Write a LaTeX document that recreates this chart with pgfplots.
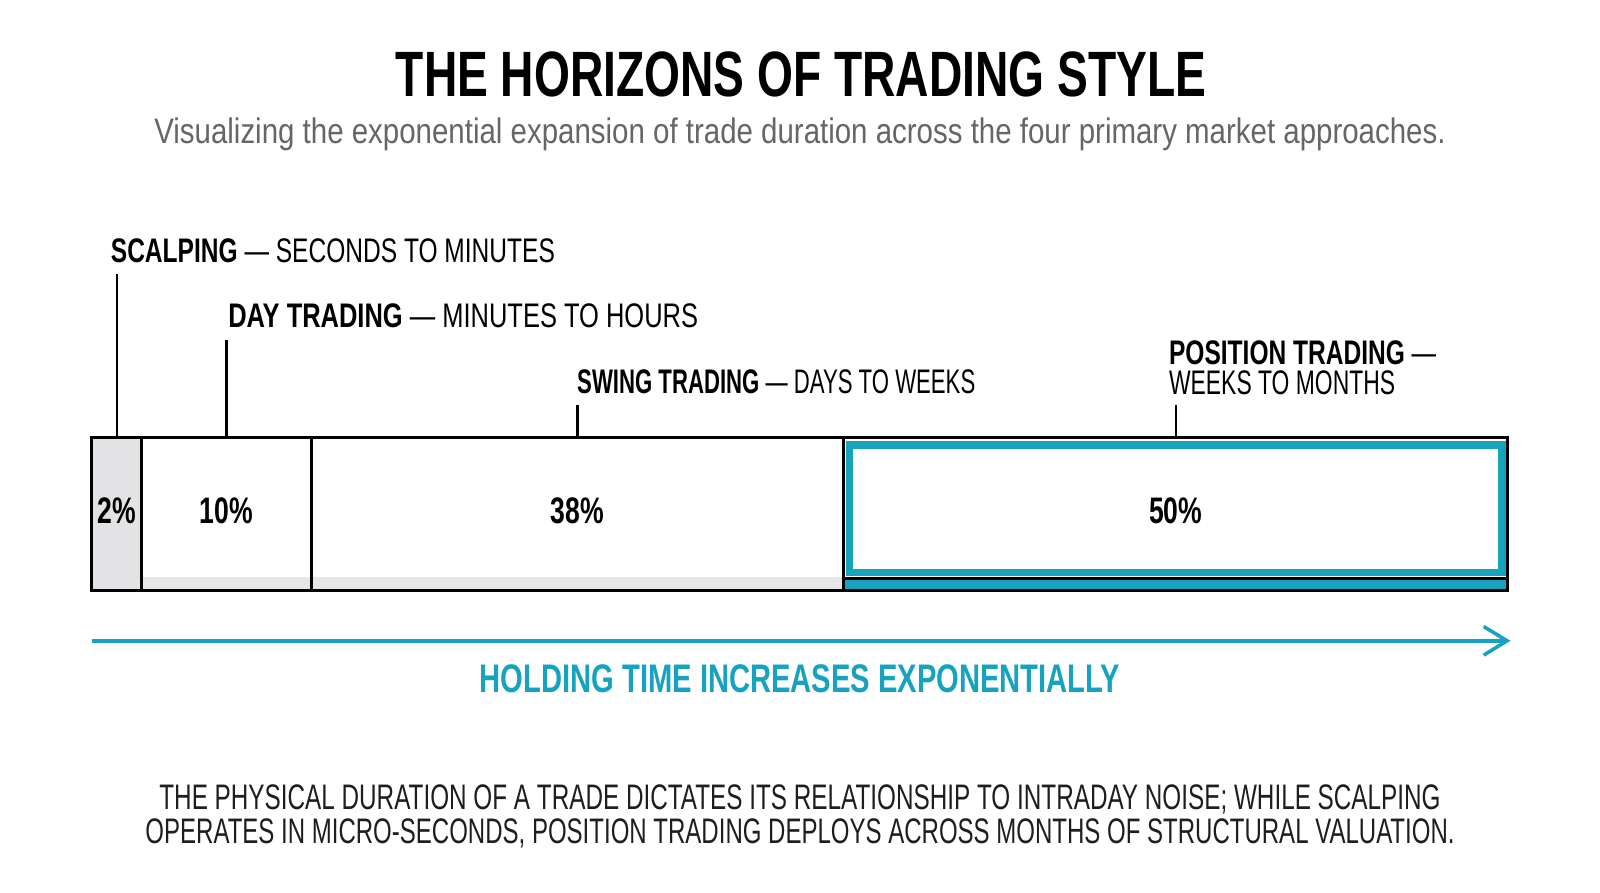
\documentclass[border=0pt]{standalone}
\usepackage{pgfplots}
\pgfplotsset{compat=1.18}
\usepackage{graphicx}
\usepackage{fontspec}
\setmainfont[FakeStretch=0.72]{Liberation Sans}
\definecolor{teal1}{HTML}{17A2BF}
\definecolor{lgray}{HTML}{E3E3E5}
\definecolor{stripgray}{HTML}{E6E6E6}
\definecolor{subgray}{HTML}{666666}
\definecolor{ink}{HTML}{1E1E1E}
\begin{document}
\begin{tikzpicture}[x=0.010204cm,y=-0.010204cm]
\fill[white] (0,0) rectangle (1568,875);
\coordinate (barsw) at (90,579);
% titles
\node[anchor=base, inner sep=0, font=\fontsize{18.25}{20}\selectfont\bfseries] at (785,95) {THE HORIZONS OF TRADING STYLE};
\node[anchor=base, inner sep=0, text=subgray, font=\fontsize{10.1}{12}\selectfont] at (784,141) {\scalebox{1.153}[1]{Visualizing the exponential expansion of trade duration across the four primary market approaches.}};
% segment labels
\node[anchor=base west, inner sep=0, font=\fontsize{9.7}{11}\selectfont] at (108,257) {\textbf{SCALPING} --- SECONDS TO MINUTES};
\node[anchor=base west, inner sep=0, font=\fontsize{9.7}{11}\selectfont] at (223,321) {\scalebox{1.038}[1]{\textbf{DAY TRADING} --- MINUTES TO HOURS}};
\node[anchor=base west, inner sep=0, font=\fontsize{9.7}{11}\selectfont] at (565,386) {\scalebox{0.903}[1]{\textbf{SWING TRADING} --- DAYS TO WEEKS}};
\node[anchor=base west, inner sep=0, font=\fontsize{9.7}{11}\selectfont] at (1145,357) {\textbf{POSITION TRADING} ---};
\node[anchor=base west, inner sep=0, font=\fontsize{9.7}{11}\selectfont] at (1145,387) {\scalebox{0.933}[1]{WEEKS TO MONTHS}};
% arrow
\draw[teal1, line width=1.16pt] (90,628) -- (1476,628);
\draw[teal1, line width=1.0pt, line join=miter] (1454,614) -- (1477,628) -- (1454,642);
\node[anchor=base, inner sep=0, text=teal1, font=\fontsize{11.35}{13}\selectfont\bfseries] at (784,679) {\scalebox{1.016}[1]{HOLDING TIME INCREASES EXPONENTIALLY}};
% bottom text
\node[anchor=base, inner sep=0, text=ink, font=\fontsize{10.1}{12}\selectfont] at (784,793) {\scalebox{0.951}[1]{THE PHYSICAL DURATION OF A TRADE DICTATES ITS RELATIONSHIP TO INTRADAY NOISE; WHILE SCALPING}};
\node[anchor=base, inner sep=0, text=ink, font=\fontsize{10.1}{12}\selectfont] at (784,827) {\scalebox{0.940}[1]{OPERATES IN MICRO-SECONDS, POSITION TRADING DEPLOYS ACROSS MONTHS OF STRUCTURAL VALUATION.}};
% bar
\begin{axis}[at={(barsw)}, anchor=south west, scale only axis,
  width=14.163cm, height=1.5306cm, xmin=0, xmax=100, ymin=0, ymax=1,
  hide axis, clip=false]
% segment fills (drawn widths: 2% scalping, 10% day, 38% swing, 50% position)
\addplot[fill=lgray, draw=none] coordinates {(0,0)(3.53,0)(3.53,1)(0,1)} --cycle;
\addplot[fill=white, draw=none] coordinates {(3.53,0)(15.49,0)(15.49,1)(3.53,1)} --cycle;
\addplot[fill=white, draw=none] coordinates {(15.49,0)(53.10,0)(53.10,1)(15.49,1)} --cycle;
\addplot[fill=white, draw=none] coordinates {(53.10,0)(100,0)(100,1)(53.10,1)} --cycle;
% bottom strips
\addplot[fill=stripgray, draw=none] coordinates {(3.53,0)(53.10,0)(53.10,0.093)(3.53,0.093)} --cycle;
\addplot[fill=teal1, draw=none] coordinates {(53.10,0)(100,0)(100,0.08)(53.10,0.08)} --cycle;
\addplot[black, line width=0.87pt] coordinates {(53.10,0.08)(100,0.08)};
% teal inner frame
\addplot[draw=teal1, line width=2.1pt] coordinates {(53.50,0.12)(99.60,0.12)(99.60,0.953)(53.50,0.953)} --cycle;
% borders
\addplot[draw=black, line width=0.87pt] coordinates {(0,0)(3.53,0)(3.53,1)(0,1)} --cycle;
\addplot[draw=black, line width=0.87pt] coordinates {(3.53,0)(15.49,0)(15.49,1)(3.53,1)} --cycle;
\addplot[draw=black, line width=0.87pt] coordinates {(15.49,0)(53.10,0)(53.10,1)(15.49,1)} --cycle;
\addplot[draw=black, line width=0.87pt] coordinates {(53.10,0)(100,0)(100,1)(53.10,1)} --cycle;
% leader lines
\addplot[black, line width=0.6pt] coordinates {(1.77,1)(1.77,2.073)};
\addplot[black, line width=0.6pt] coordinates {(9.51,1)(9.51,1.64)};
\addplot[black, line width=0.6pt] coordinates {(34.30,1)(34.30,1.213)};
\addplot[black, line width=0.6pt] coordinates {(76.55,1)(76.55,1.213)};
% value labels
\node[inner sep=0, font=\fontsize{10.5}{12}\selectfont\bfseries] at (axis cs:1.77,0.52) {2\%};
\node[inner sep=0, font=\fontsize{10.5}{12}\selectfont\bfseries] at (axis cs:9.51,0.52) {10\%};
\node[inner sep=0, font=\fontsize{10.5}{12}\selectfont\bfseries] at (axis cs:34.30,0.52) {38\%};
\node[inner sep=0, font=\fontsize{10.5}{12}\selectfont\bfseries] at (axis cs:76.55,0.52) {50\%};
\end{axis}
\end{tikzpicture}
\end{document}
